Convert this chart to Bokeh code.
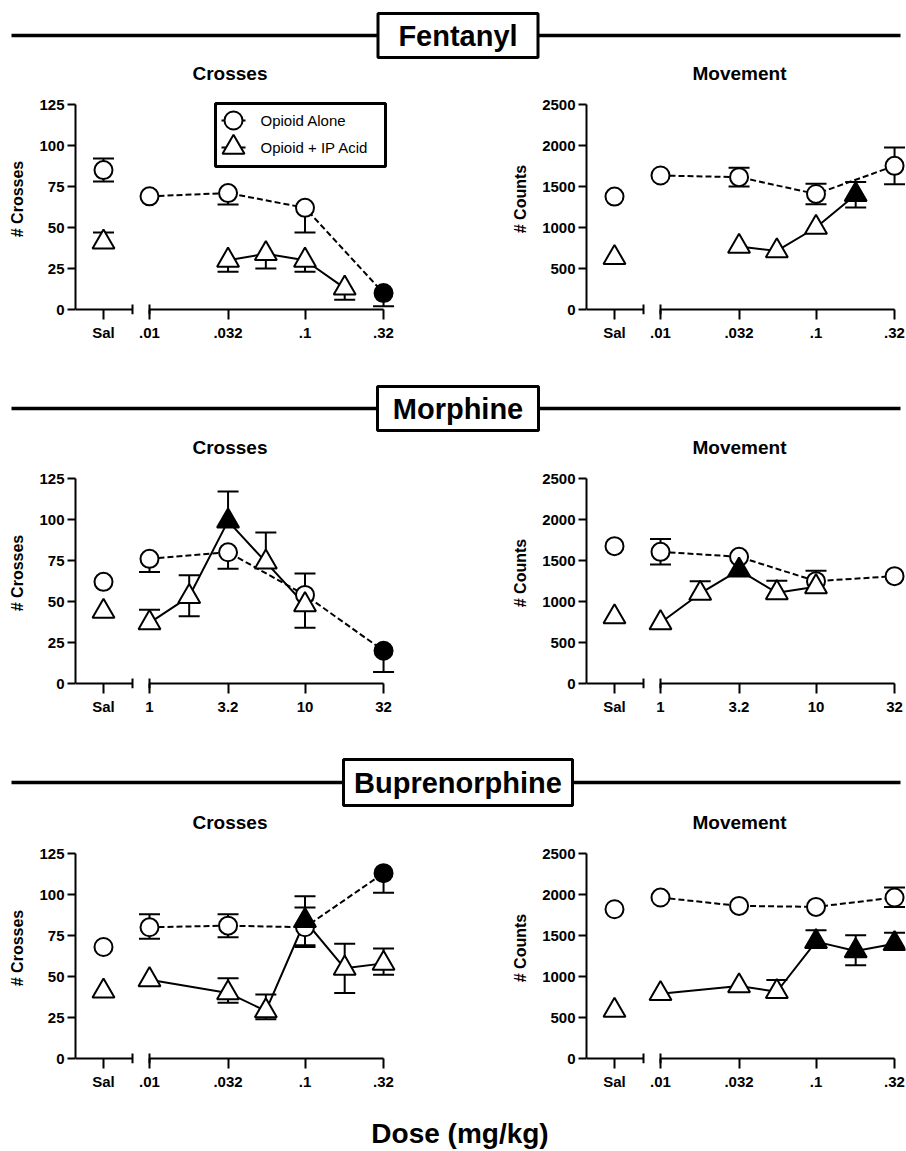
import numpy as np
from bokeh.plotting import figure
from bokeh.layouts import column, row
from bokeh.models import Range1d, FixedTicker
from bokeh.core.properties import value
from bokeh.embed import file_html
from bokeh.resources import INLINE

FONT = "Liberation Sans"

# ---------------- data ----------------
FEN_TICKS = [0.01, 0.032, 0.1, 0.32]
FEN_TICK_LABELS = [".01", ".032", ".1", ".32"]
MOR_TICKS = [1, 3.2, 10, 32]
MOR_TICK_LABELS = ["1", "3.2", "10", "32"]
BUP_TICKS = [0.01, 0.032, 0.1, 0.32]
BUP_TICK_LABELS = [".01", ".032", ".1", ".32"]

CROSS_TICKS = [0, 25, 50, 75, 100, 125]
COUNT_TICKS = [0, 500, 1000, 1500, 2000, 2500]

# Fentanyl - Crosses  (saline values: [opioid alone, opioid + IP acid])
FC_SAL = [85, 41]
FC_SAL_HI = [7, 6]
FC_SAL_LO = [7, 0]
FC_A_DOSE = [0.01, 0.032, 0.1, 0.32]
FC_A = [69, 71, 62, 10]
FC_A_HI = [0, 0, 0, 0]
FC_A_LO = [0, 7, 15, 8]
FC_A_SIG = [0, 0, 0, 1]
FC_I_DOSE = [0.032, 0.056, 0.1, 0.18]
FC_I = [30, 34, 30, 13]
FC_I_HI = [0, 0, 0, 0]
FC_I_LO = [7, 9, 7, 7]
FC_I_SIG = [0, 0, 0, 0]

# Fentanyl - Movement
FM_SAL = [1377, 633]
FM_SAL_HI = [0, 0]
FM_SAL_LO = [0, 0]
FM_A_DOSE = [0.01, 0.032, 0.1, 0.32]
FM_A = [1634, 1614, 1409, 1752]
FM_A_HI = [0, 115, 125, 225]
FM_A_LO = [0, 115, 125, 225]
FM_A_SIG = [0, 0, 0, 0]
FM_I_DOSE = [0.032, 0.056, 0.1, 0.18]
FM_I = [768, 715, 1000, 1400]
FM_I_HI = [0, 0, 0, 155]
FM_I_LO = [0, 0, 0, 155]
FM_I_SIG = [0, 0, 0, 1]

# Morphine - Crosses
MC_SAL = [62, 44]
MC_SAL_HI = [0, 0]
MC_SAL_LO = [0, 0]
MC_A_DOSE = [1, 3.2, 10, 32]
MC_A = [76, 80, 54, 20]
MC_A_HI = [0, 0, 0, 0]
MC_A_LO = [8, 10, 20, 13]
MC_A_SIG = [0, 0, 0, 1]
MC_I_DOSE = [1, 1.8, 3.2, 5.6, 10]
MC_I = [37, 53, 99, 74, 48]
MC_I_HI = [8, 13, 18, 18, 19]
MC_I_LO = [0, 12, 0, 0, 0]
MC_I_SIG = [0, 0, 1, 0, 0]

# Morphine - Movement
MM_SAL = [1675, 813]
MM_SAL_HI = [0, 0]
MM_SAL_LO = [0, 0]
MM_A_DOSE = [1, 3.2, 10, 32]
MM_A = [1606, 1545, 1248, 1309]
MM_A_HI = [155, 0, 126, 0]
MM_A_LO = [155, 0, 0, 0]
MM_A_SIG = [0, 0, 0, 0]
MM_I_DOSE = [1, 1.8, 3.2, 5.6, 10]
MM_I = [740, 1098, 1382, 1106, 1179]
MM_I_HI = [0, 150, 0, 146, 0]
MM_I_LO = [0, 0, 0, 0, 0]
MM_I_SIG = [0, 0, 1, 0, 0]

# Buprenorphine - Crosses
BC_SAL = [68, 41]
BC_SAL_HI = [0, 0]
BC_SAL_LO = [0, 0]
BC_A_DOSE = [0.01, 0.032, 0.1, 0.32]
BC_A = [80, 81, 80, 113]
BC_A_HI = [8, 7, 12, 0]
BC_A_LO = [7, 7, 12, 12]
BC_A_SIG = [0, 0, 0, 1]
BC_I_DOSE = [0.01, 0.032, 0.056, 0.1, 0.18, 0.32]
BC_I = [48, 40, 29, 84, 55, 58]
BC_I_HI = [0, 9, 10, 15, 15, 9]
BC_I_LO = [0, 6, 5, 15, 15, 7]
BC_I_SIG = [0, 0, 0, 1, 0, 0]

# Buprenorphine - Movement
BM_SAL = [1820, 586]
BM_SAL_HI = [0, 0]
BM_SAL_LO = [0, 0]
BM_A_DOSE = [0.01, 0.032, 0.1, 0.32]
BM_A = [1963, 1861, 1849, 1963]
BM_A_HI = [0, 0, 0, 122]
BM_A_LO = [0, 0, 0, 114]
BM_A_SIG = [0, 0, 0, 0]
BM_I_DOSE = [0.01, 0.032, 0.056, 0.1, 0.18, 0.32]
BM_I = [790, 884, 814, 1425, 1311, 1400]
BM_I_HI = [0, 0, 143, 138, 191, 135]
BM_I_LO = [0, 0, 0, 0, 175, 0]
BM_I_SIG = [0, 0, 0, 1, 1, 1]

LEGEND_LABELS = ["Opioid Alone", "Opioid + IP Acid"]

# ---------------- layout constants ----------------
PX_DEC = 155.5     # px per log10 unit of dose
PX_FIRST = 74      # px from y axis to first dose
PX_SAL = 28        # px from y axis to saline
PX_BREAK = 57      # px from y axis to end of saline segment
PLOT_PX = 205      # px from 0 to top tick
PAD_BOT = 5
PAD_TOP = 21
BORDER_TOP = 23


def lg(v):
    return [round(float(np.log10(d)), 6) for d in v]


def errbars(p, xv, yv, hi, lo):
    x0, y0, y1, cx, cy = [], [], [], [], []
    for x, y, h, l in zip(xv, yv, hi, lo):
        if h > 0 or l > 0:
            x0.append(x); y0.append(y - l); y1.append(y + h)
        if h > 0:
            cx.append(x); cy.append(y + h)
        if l > 0:
            cx.append(x); cy.append(y - l)
    if x0:
        p.segment(x0=x0, y0=y0, x1=x0, y1=y1, line_color="black", line_width=2)
        p.scatter(x=cx, y=cy, marker="dash", size=21, line_color="black", line_width=2)


def make_panel(title, title_off, ylabel, ymax, yticks, ticks, tick_labels,
               sal, sal_hi, sal_lo, a_dose, a, a_hi, a_lo, a_sig,
               i_dose, i, i_hi, i_lo, i_sig, width, height, left, right, legend=False):
    frame_w = width - left - right
    frame_h = PLOT_PX + PAD_BOT + PAD_TOP
    ppu = PLOT_PX / ymax
    lx0 = float(np.log10(ticks[0]))
    xs = lx0 - PX_FIRST / PX_DEC
    xe = xs + frame_w / PX_DEC
    ys = -PAD_BOT / ppu
    ye = ymax + PAD_TOP / ppu
    p = figure(width=width, height=height, x_range=Range1d(xs, xe), y_range=Range1d(ys, ye),
               output_backend="svg", toolbar_location=None,
               min_border_left=left, min_border_right=right, min_border_top=BORDER_TOP,
               min_border_bottom=height - BORDER_TOP - frame_h)
    p.grid.visible = False
    p.outline_line_color = None
    p.background_fill_color = "white"
    p.border_fill_color = "white"

    p.title.text = title
    p.title.text_font = FONT
    p.title.text_font_size = "19px"
    p.title.text_font_style = "bold"
    p.title.text_color = "black"
    p.title.align = "left"
    p.title.offset = title_off
    p.title.standoff = 0

    sal_x = round(lx0 - (PX_FIRST - PX_SAL) / PX_DEC, 6)
    brk_x = lx0 - (PX_FIRST - PX_BREAK) / PX_DEC
    tick_pos = [sal_x] + lg(ticks)

    # x axis: ticks & labels by Bokeh, broken baseline drawn as glyphs
    xa = p.xaxis[0]
    xa.ticker = FixedTicker(ticks=tick_pos)
    xa.major_label_overrides = {tp: lab for tp, lab in zip(tick_pos, ["Sal"] + tick_labels)}
    xa.axis_line_color = None
    xa.major_tick_in = PAD_BOT
    xa.major_tick_out = 5
    xa.major_tick_line_width = 2
    xa.major_tick_line_color = "black"
    xa.minor_tick_line_color = None
    xa.major_label_text_font = FONT
    xa.major_label_text_font_style = "bold"
    xa.major_label_text_font_size = "15px"
    xa.major_label_text_color = "black"
    xa.major_label_standoff = 4

    ya = p.yaxis[0]
    ya.bounds = (0, ymax)
    ya.ticker = FixedTicker(ticks=yticks)
    ya.axis_line_width = 2
    ya.axis_line_color = "black"
    ya.major_tick_in = 0
    ya.major_tick_out = 8
    ya.major_tick_line_width = 2
    ya.major_tick_line_color = "black"
    ya.minor_tick_line_color = None
    ya.major_label_text_font = FONT
    ya.major_label_text_font_style = "bold"
    ya.major_label_text_font_size = "15px"
    ya.major_label_text_color = "black"
    ya.major_label_standoff = 3
    ya.axis_label = ylabel
    ya.axis_label_text_font = FONT
    ya.axis_label_text_font_style = "bold"
    ya.axis_label_text_font_size = "16px"
    ya.axis_label_text_color = "black"
    ya.axis_label_standoff = 10

    main = lg(ticks)
    p.segment(x0=[xs, main[0]], y0=[0, 0], x1=[brk_x, main[-1]], y1=[0, 0],
              line_color="black", line_width=2)
    p.scatter(x=[brk_x, main[0]], y=[0, 0], marker="dash", angle=np.pi / 2, size=10,
              line_color="black", line_width=2)

    ax = [sal_x] + lg(a_dose)
    ay = [sal[0]] + list(a)
    ix = [sal_x] + lg(i_dose)
    iy = [sal[1]] + list(i)
    errbars(p, ax, ay, [sal_hi[0]] + list(a_hi), [sal_lo[0]] + list(a_lo))
    errbars(p, ix, iy, [sal_hi[1]] + list(i_hi), [sal_lo[1]] + list(i_lo))

    p.line(lg(a_dose), list(a), line_color="black", line_width=2, line_dash="6 3")
    p.line(lg(i_dose), list(i), line_color="black", line_width=2)

    p.scatter(x=ax, y=ay, marker="circle", size=18, line_color="black", line_width=2,
              fill_color=["white"] + ["black" if s else "white" for s in a_sig])
    p.scatter(x=ix, y=iy, marker="triangle", size=22, line_color="black", line_width=2,
              fill_color=["white"] + ["black" if s else "white" for s in i_sig])

    if legend:
        def X(px):
            return xs + px / PX_DEC

        def Y(px):  # px below the top tick
            return ymax - px / ppu
        p.rect(x=[X(225)], y=[Y(30.5)], width=[170], height=[63], width_units="screen",
               height_units="screen", fill_color="white", line_color="black", line_width=3)
        rows = [Y(16), Y(43)]
        p.segment(x0=[X(146)] * 2, x1=[X(170)] * 2, y0=rows, y1=rows,
                  line_color="black", line_width=2)
        p.scatter(x=[X(158)], y=[rows[0]], marker="circle", size=18, line_color="black",
                  line_width=2, fill_color="white")
        p.scatter(x=[X(158)], y=[rows[1]], marker="triangle", size=22, line_color="black",
                  line_width=2, fill_color="white")
        p.text(x=[X(185)] * 2, y=rows, text=LEGEND_LABELS, text_font=value(FONT),
               text_font_size="15px", text_baseline="middle", text_color="black")
    return p


def bare(h):
    p = figure(width=906, height=h, x_range=Range1d(0, 906), y_range=Range1d(h, 0),
               output_backend="svg", toolbar_location=None, min_border=0,
               x_axis_location=None, y_axis_location=None)
    p.grid.visible = False
    p.outline_line_color = None
    return p


def make_header(name, h, ly, box_w, box_h):
    p = bare(h)
    p.segment(x0=[11], x1=[900], y0=[ly], y1=[ly], line_color="black", line_width=3.5)
    p.rect(x=[457.5], y=[ly], width=[box_w], height=[box_h], width_units="screen",
           height_units="screen", fill_color="white", line_color="black", line_width=3)
    p.text(x=[457.5], y=[ly], text=[name], text_align="center",
           text_baseline="middle", text_font=value(FONT), text_font_size="29px",
           text_font_style="bold", text_color="black")
    return p


def pair(ticks, labels, cr, mv, height, legend=False):
    left = make_panel("Crosses", 117, "# Crosses", 125, CROSS_TICKS, ticks, labels, *cr,
                      width=453, height=height, left=75, right=53, legend=legend)
    rightp = make_panel("Movement", 106, "# Counts", 2500, COUNT_TICKS, ticks, labels, *mv,
                        width=453, height=height, left=133, right=1)
    return row(left, rightp, spacing=0)


fc = (FC_SAL, FC_SAL_HI, FC_SAL_LO, FC_A_DOSE, FC_A, FC_A_HI, FC_A_LO, FC_A_SIG,
      FC_I_DOSE, FC_I, FC_I_HI, FC_I_LO, FC_I_SIG)
fm = (FM_SAL, FM_SAL_HI, FM_SAL_LO, FM_A_DOSE, FM_A, FM_A_HI, FM_A_LO, FM_A_SIG,
      FM_I_DOSE, FM_I, FM_I_HI, FM_I_LO, FM_I_SIG)
mc = (MC_SAL, MC_SAL_HI, MC_SAL_LO, MC_A_DOSE, MC_A, MC_A_HI, MC_A_LO, MC_A_SIG,
      MC_I_DOSE, MC_I, MC_I_HI, MC_I_LO, MC_I_SIG)
mm = (MM_SAL, MM_SAL_HI, MM_SAL_LO, MM_A_DOSE, MM_A, MM_A_HI, MM_A_LO, MM_A_SIG,
      MM_I_DOSE, MM_I, MM_I_HI, MM_I_LO, MM_I_SIG)
bc = (BC_SAL, BC_SAL_HI, BC_SAL_LO, BC_A_DOSE, BC_A, BC_A_HI, BC_A_LO, BC_A_SIG,
      BC_I_DOSE, BC_I, BC_I_HI, BC_I_LO, BC_I_SIG)
bm = (BM_SAL, BM_SAL_HI, BM_SAL_LO, BM_A_DOSE, BM_A, BM_A_HI, BM_A_LO, BM_A_SIG,
      BM_I_DOSE, BM_I, BM_I_HI, BM_I_LO, BM_I_SIG)

h1 = make_header("Fentanyl", 60, 35, 160, 44)
r1 = pair(FEN_TICKS, FEN_TICK_LABELS, fc, fm, 316, legend=True)
h2 = make_header("Morphine", 58, 32, 161, 44)
r2 = pair(MOR_TICKS, MOR_TICK_LABELS, mc, mm, 317)
h3 = make_header("Buprenorphine", 58, 31, 229, 46)
r3 = pair(BUP_TICKS, BUP_TICK_LABELS, bc, bm, 290)

foot = bare(52)
foot.text(x=[459.5], y=[34], text=["Dose (mg/kg)"], text_align="center",
          text_baseline="middle", text_font=value(FONT), text_font_size="28px",
          text_font_style="bold", text_color="black")

layout = column(h1, r1, h2, r2, h3, r3, foot, spacing=0)

open("out.html", "w").write(file_html(layout, INLINE))
